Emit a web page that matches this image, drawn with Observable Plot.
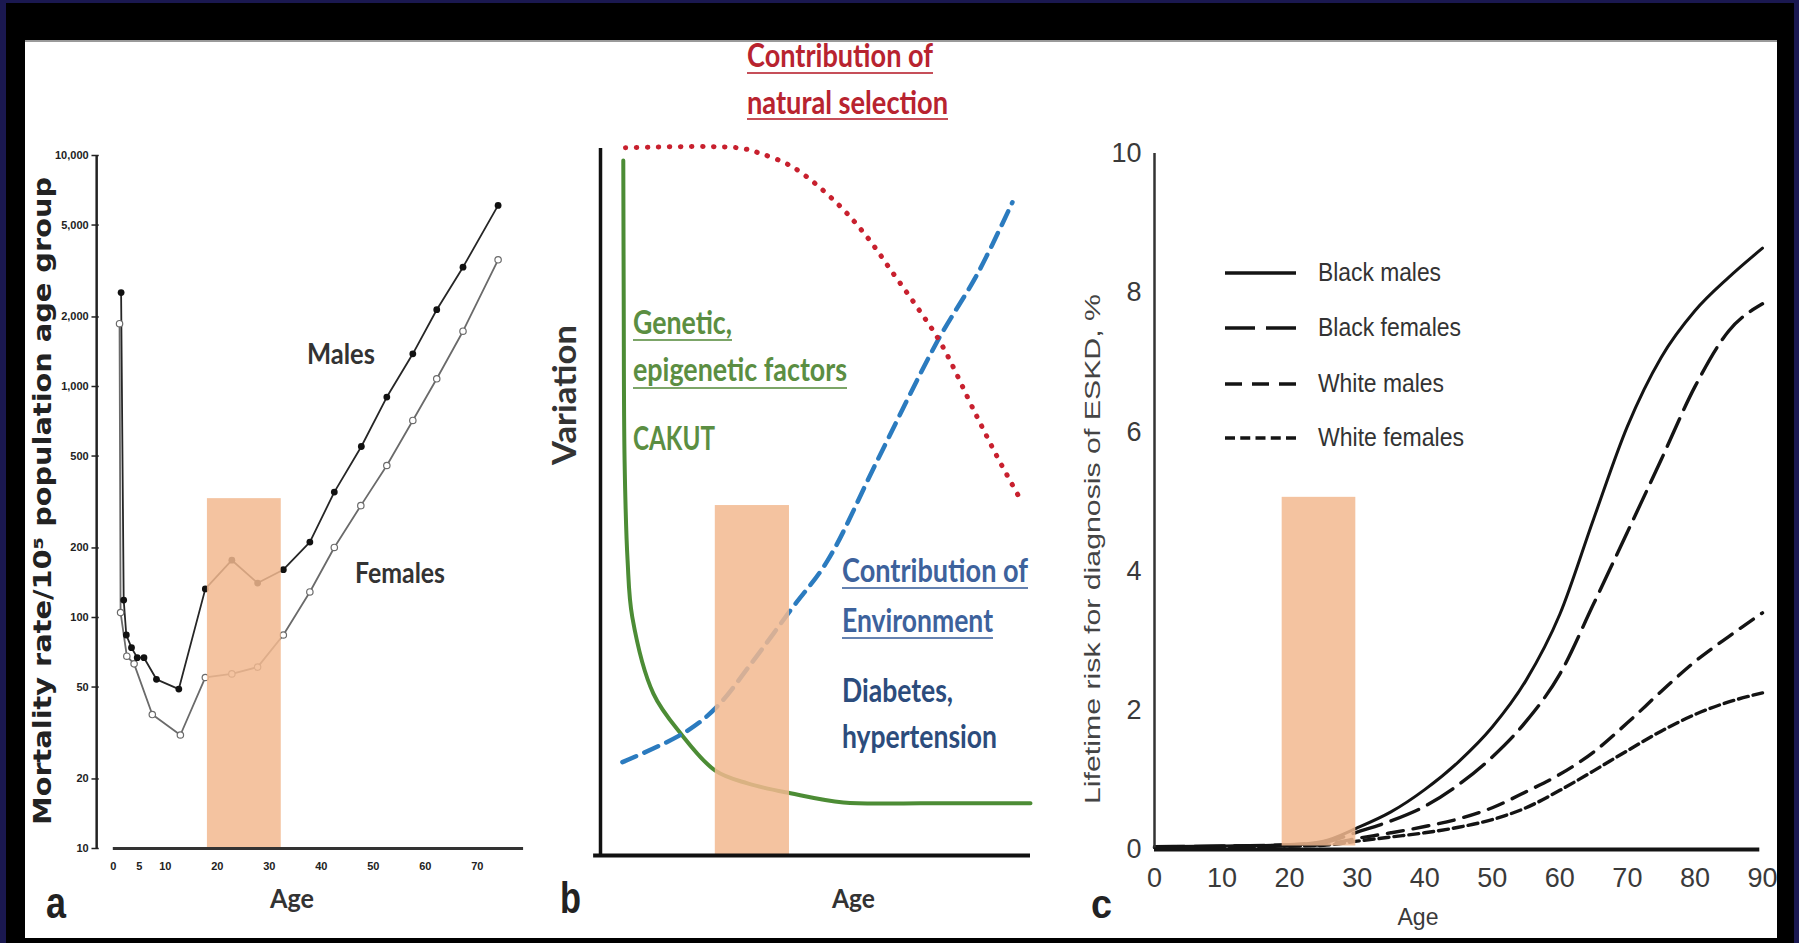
<!DOCTYPE html>
<html>
<head>
<meta charset="utf-8">
<script src="https://cdn.jsdelivr.net/npm/d3@7"></script>
<script src="https://cdn.jsdelivr.net/npm/@observablehq/plot@0.6"></script>
<style>
  html, body { margin: 0; padding: 0; background: #1a1850; }
  #page { position: relative; width: 1799px; height: 943px; overflow: hidden; background: #1a1850; }
  #frame { position: absolute; left: 6px; top: 3px; width: 1788px; height: 940px; background: #000; }
  #white { position: absolute; left: 25px; top: 40px; width: 1752px; height: 898px; background: #fff; border-top: 2px solid #9a9a9a; box-sizing: border-box; }
  .panel { position: absolute; }
  .panel svg { overflow: visible; background: transparent; }
  #overlay { position: absolute; left: 0; top: 0; pointer-events: none; }
</style>
</head>
<body>
<div id="page">
  <div id="frame"></div>
  <div id="white"></div>
  <div class="panel" id="pa" style="left:25px; top:130px;"></div>
  <div class="panel" id="pb" style="left:540px; top:120px;"></div>
  <div class="panel" id="pc" style="left:1050px; top:120px;"></div>
  <svg id="overlay" width="1799" height="943"></svg>
</div>
<script>
// ---------------- Panel a: mortality rate per 10^5 by age (log scale) ----------------
const ageMales    = [1.5, 2.0, 2.5, 3.5, 4.6, 5.9, 8.3, 12.6, 17.7, 22.8, 27.75, 32.7, 37.8, 42.5, 47.7, 52.6, 57.6, 62.2, 67.25, 74.0];
const mortMales   = [2550, 119, 84, 74, 67, 67, 54, 49, 133, 177, 141, 161, 212, 349, 550, 900, 1385, 2150, 3285, 6080];
const ageFemales  = [1.2, 1.4, 2.6, 4.0, 7.5, 12.9, 17.7, 22.8, 27.75, 32.7, 37.8, 42.5, 47.6, 52.6, 57.6, 62.2, 67.25, 74.0];
const mortFemales = [1870, 105, 68, 63, 38, 31, 55, 57, 61, 84, 129, 201, 305, 455, 713, 1080, 1735, 3535];
const ticksAy = [10, 20, 50, 100, 200, 500, 1000, 2000, 5000, 10000];
const ticksAx = [0, 5, 10, 20, 30, 40, 50, 60, 70];
const bandAgesA = [18.1, 32.3];
const bandTopA = 327;

// ---------------- Panel b: conceptual curves (arbitrary units 0-100) ----------------
const selX = [5.8, 31.9, 37.2, 44.9, 55.1, 62.1, 68.1, 73.7, 79.3, 87.2, 92.6, 97.9];
const selY = [100.1, 100.1, 99.3, 97.3, 92.2, 87.4, 82.3, 77.5, 72.3, 62.5, 56.0, 50.1];
const envX = [5.1, 19.3, 26.7, 35.6, 44.2, 52.8, 64.4, 78.4, 87.7, 95.8];
const envY = [13.2, 17.3, 20.8, 27.6, 34.7, 41.7, 55.9, 72.8, 82.3, 92.4];
const genX = [5.3, 5.4, 5.6, 6.3, 7.4, 12.3, 18.6, 26.7, 34.2, 44.2, 56.5, 75, 100];
const genY = [98.3, 78.5, 55.9, 41.7, 33.7, 22.9, 17.3, 12.0, 10.2, 8.8, 7.5, 7.4, 7.4];
const bandXB = [26.7, 43.95];
const bandTopB = 49.5;

// ---------------- Panel c: lifetime risk of ESKD (%) ----------------
const ageC   = [0, 10, 20, 25, 30, 35, 40, 45, 50, 55, 60, 65, 70, 75, 80, 85, 90];
const riskBM = [0.04, 0.05, 0.07, 0.12, 0.31, 0.54, 0.86, 1.26, 1.76, 2.43, 3.38, 4.75, 6.08, 7.07, 7.74, 8.22, 8.64];
const riskBF = [0.04, 0.05, 0.07, 0.1, 0.25, 0.41, 0.62, 0.93, 1.33, 1.84, 2.52, 3.53, 4.56, 5.6, 6.65, 7.45, 7.84];
const riskWM = [0.03, 0.04, 0.05, 0.07, 0.16, 0.24, 0.33, 0.44, 0.6, 0.83, 1.08, 1.4, 1.82, 2.27, 2.7, 3.06, 3.4];
const riskWF = [0.03, 0.04, 0.05, 0.06, 0.12, 0.18, 0.24, 0.32, 0.43, 0.6, 0.85, 1.13, 1.42, 1.7, 1.94, 2.12, 2.25];
const seriesC = ["Black males", "Black females", "White males", "White females"];
const dashC = [null, "30 10", "16 10", "10 5"];
const ticksCx = [0, 10, 20, 30, 40, 50, 60, 70, 80, 90];
const ticksCy = [0, 2, 4, 6, 8, 10];
const bandAgesC = [18.9, 29.8];
const bandTopC = 5.06;

const BAND = "#f2b88f";

// ---------- Panel a ----------
const males = ageMales.map((a, i) => ({age: a, v: mortMales[i]}));
const females = ageFemales.map((a, i) => ({age: a, v: mortFemales[i]}));
const AX0 = -3.2;
const plotA = Plot.plot({
  width: 520, height: 760,
  marginLeft: 71.16, marginRight: 16.2, marginTop: 25, marginBottom: 42,
  x: {domain: [AX0, 80], axis: null},
  y: {type: "log", domain: [10, 10000], axis: null},
  style: {fontFamily: "Liberation Sans", color: "#222", background: "transparent"},
  marks: [
    Plot.line(females, {x: "age", y: "v", stroke: "#6a6a6a", strokeWidth: 1.8}),
    Plot.line(males, {x: "age", y: "v", stroke: "#262626", strokeWidth: 1.8}),
    Plot.dot(females, {x: "age", y: "v", r: 3.2, fill: "white", stroke: "#6a6a6a", strokeWidth: 1.2}),
    Plot.dot(males, {x: "age", y: "v", r: 3.4, fill: "#111"}),
    Plot.rect([bandAgesA], {x1: d => d[0], x2: d => d[1], y1: 10, y2: bandTopA, fill: BAND, fillOpacity: 0.85}),
    Plot.ruleX([AX0], {y1: 10, y2: 10000, stroke: "#222", strokeWidth: 2.5}),
    Plot.ruleY(ticksAy, {y: d => d, x1: AX0 - 0.9, x2: AX0 + 0.5, stroke: "#222", strokeWidth: 1.5}),
    Plot.text(ticksAy, {y: d => d, x: AX0, dx: -8, textAnchor: "end", text: d3.format(","), fontSize: 11, fontWeight: "bold", fill: "#222"}),
    Plot.ruleY([10], {x1: 0, x2: 78.9, stroke: "#333", strokeWidth: 3}),
    Plot.axisX({ticks: ticksAx, tickSize: 0, tickPadding: 14, fontSize: 11, fontWeight: "bold", label: null})
  ]
});
document.getElementById("pa").append(plotA);

// ---------- Panel b ----------
const sel = selX.map((x, i) => ({x, y: selY[i]}));
const env = envX.map((x, i) => ({x, y: envY[i]}));
const gen = genX.map((x, i) => ({x, y: genY[i]}));
const plotB = Plot.plot({
  width: 510, height: 760,
  marginLeft: 60, marginRight: 20, marginTop: 28, marginBottom: 25,
  x: {domain: [0, 100], axis: null},
  y: {domain: [0, 100], axis: null},
  style: {background: "transparent"},
  marks: [
    Plot.line(gen, {x: "x", y: "y", curve: "catmull-rom", stroke: "#4c8c35", strokeWidth: 4}),
    Plot.line(env, {x: "x", y: "y", curve: "catmull-rom", stroke: "#2b7bbf", strokeWidth: 4.5, strokeDasharray: "15 9"}),
    Plot.line(sel, {x: "x", y: "y", curve: "catmull-rom", stroke: "#c8202e", strokeWidth: 5, strokeDasharray: "0.5 10.5", strokeLinecap: "round"}),
    Plot.rect([bandXB], {x1: d => d[0], x2: d => d[1], y1: 0, y2: bandTopB, fill: BAND, fillOpacity: 0.85}),
    Plot.ruleX([0], {y1: 0, y2: 100, stroke: "#111", strokeWidth: 3.5}),
    Plot.ruleY([0], {x1: -1.6, x2: 100, stroke: "#111", strokeWidth: 4})
  ]
});
document.getElementById("pb").append(plotB);

// ---------- Panel c ----------
const cRisk = [riskBM, riskBF, riskWM, riskWF];
const risk = seriesC.flatMap((s, k) => ageC.map((a, i) => ({s, age: a, v: cRisk[k][i]})));
const plotC = Plot.plot({
  width: 740, height: 790,
  marginLeft: 104, marginRight: 28, marginTop: 33, marginBottom: 61,
  x: {domain: [0, 90], axis: null},
  y: {domain: [0, 10], axis: null},
  style: {fontFamily: "Liberation Sans", color: "#3a3a3a", background: "transparent"},
  marks: [
    ...seriesC.map((s, k) => Plot.line(risk.filter(d => d.s === s), {
      x: "age", y: "v", curve: "monotone-x", stroke: "#141414",
      strokeWidth: k === 0 ? 3 : 3.4, strokeDasharray: dashC[k] || undefined
    })),
    Plot.rect([bandAgesC], {x1: d => d[0], x2: d => d[1], y1: 0.05, y2: bandTopC, fill: BAND, fillOpacity: 0.85}),
    Plot.ruleX([0], {y1: 0, y2: 10, stroke: "#333", strokeWidth: 2.5}),
    Plot.ruleY([0], {x1: 0, x2: 89.6, stroke: "#141414", strokeWidth: 4}),
    Plot.axisY({ticks: ticksCy, tickSize: 0, tickPadding: 13, fontSize: 27, label: null}),
    Plot.axisX({ticks: ticksCx, tickSize: 0, tickPadding: 18, fontSize: 27, label: null})
  ]
});
document.getElementById("pc").append(plotC);

// ---------- Overlay texts ----------
const LATO = "Lato, 'Open Sans', sans-serif";
const ARIAL = "'Liberation Sans', Arial, sans-serif";
const RED = "#b8232f", GREEN = "#5b8e42", BLUE = "#3d629c", NAVY = "#2c4c7c";
const labels = [
  {t: "Mortality rate/10⁵ population age group", x: 51, y: 501, rot: true, anchor: "middle", size: 24, weight: 700, fam: "'DejaVu Sans', sans-serif", fill: "#222", len: 648},
  {t: "Males", x: 307, y: 364, size: 28, weight: 700, fam: LATO, fill: "#333", len: 68},
  {t: "Females", x: 355, y: 583, size: 28, weight: 700, fam: LATO, fill: "#333", len: 90},
  {t: "Age", x: 270, y: 908, size: 27, weight: 700, fam: LATO, fill: "#333", len: 44},
  {t: "a", x: 46, y: 918, size: 44, weight: 700, fam: ARIAL, fill: "#222", len: 20},
  {t: "Variation", x: 576, y: 395, rot: true, anchor: "middle", size: 32, weight: 700, fam: LATO, fill: "#333", len: 140},
  {t: "b", x: 560, y: 913, size: 44, weight: 700, fam: ARIAL, fill: "#222", len: 21},
  {t: "Age", x: 832, y: 908, size: 27, weight: 700, fam: LATO, fill: "#333", len: 43},
  {t: "Contribution of", x: 747, y: 67, size: 32, weight: 700, fam: LATO, fill: RED, len: 186, ul: 73},
  {t: "natural selection", x: 747, y: 114, size: 32, weight: 700, fam: LATO, fill: RED, len: 201, ul: 119},
  {t: "Genetic,", x: 633, y: 334, size: 32, weight: 700, fam: LATO, fill: GREEN, len: 99, ul: 340},
  {t: "epigenetic factors", x: 633, y: 381, size: 32, weight: 700, fam: LATO, fill: GREEN, len: 214, ul: 388},
  {t: "CAKUT", x: 633, y: 450, size: 32, weight: 700, fam: LATO, fill: GREEN, len: 82},
  {t: "Contribution of", x: 842, y: 582, size: 32, weight: 700, fam: LATO, fill: BLUE, len: 186, ul: 588},
  {t: "Environment", x: 842, y: 632, size: 32, weight: 700, fam: LATO, fill: BLUE, len: 151, ul: 638},
  {t: "Diabetes,", x: 842, y: 702, size: 32, weight: 700, fam: LATO, fill: NAVY, len: 111},
  {t: "hypertension", x: 842, y: 748, size: 32, weight: 700, fam: LATO, fill: NAVY, len: 155},
  {t: "Lifetime risk for diagnosis of ESKD, %", x: 1100, y: 549, rot: true, anchor: "middle", size: 22, weight: 400, fam: ARIAL, fill: "#444", len: 510},
  {t: "Age", x: 1418, y: 925, anchor: "middle", size: 24, weight: 400, fam: ARIAL, fill: "#3a3a3a", len: 41},
  {t: "c", x: 1091, y: 918, size: 40, weight: 700, fam: ARIAL, fill: "#222", len: 21}
];
const ov = d3.select("#overlay");
for (const d of labels) {
  const t = ov.append("text")
    .attr("x", d.x).attr("y", d.y)
    .attr("font-family", d.fam).attr("font-size", d.size).attr("font-weight", d.weight)
    .attr("fill", d.fill).attr("text-anchor", d.anchor || "start")
    .attr("textLength", d.len).attr("lengthAdjust", "spacingAndGlyphs")
    .text(d.t);
  if (d.rot) t.attr("transform", `rotate(-90 ${d.x} ${d.y})`);
  if (d.ul) ov.append("line").attr("x1", d.x).attr("x2", d.x + d.len).attr("y1", d.ul).attr("y2", d.ul)
    .attr("stroke", d.fill).attr("stroke-width", 2.2).attr("stroke-opacity", 0.8);
}
// Legend for panel c
const legY = [273, 328, 384, 438];
const legLen = [123, 143, 126, 146];
seriesC.forEach((s, k) => {
  ov.append("line").attr("x1", 1225).attr("x2", 1296).attr("y1", legY[k]).attr("y2", legY[k])
    .attr("stroke", "#141414").attr("stroke-width", 3.4)
    .attr("stroke-dasharray", k === 0 ? null : ["", "30 11", "17 10", "10 5.25"][k]);
  ov.append("text").attr("x", 1318).attr("y", legY[k] + 8)
    .attr("font-family", ARIAL).attr("font-size", 25).attr("fill", "#333")
    .attr("textLength", legLen[k]).attr("lengthAdjust", "spacingAndGlyphs")
    .text(s);
});
</script>
</body>
</html>
